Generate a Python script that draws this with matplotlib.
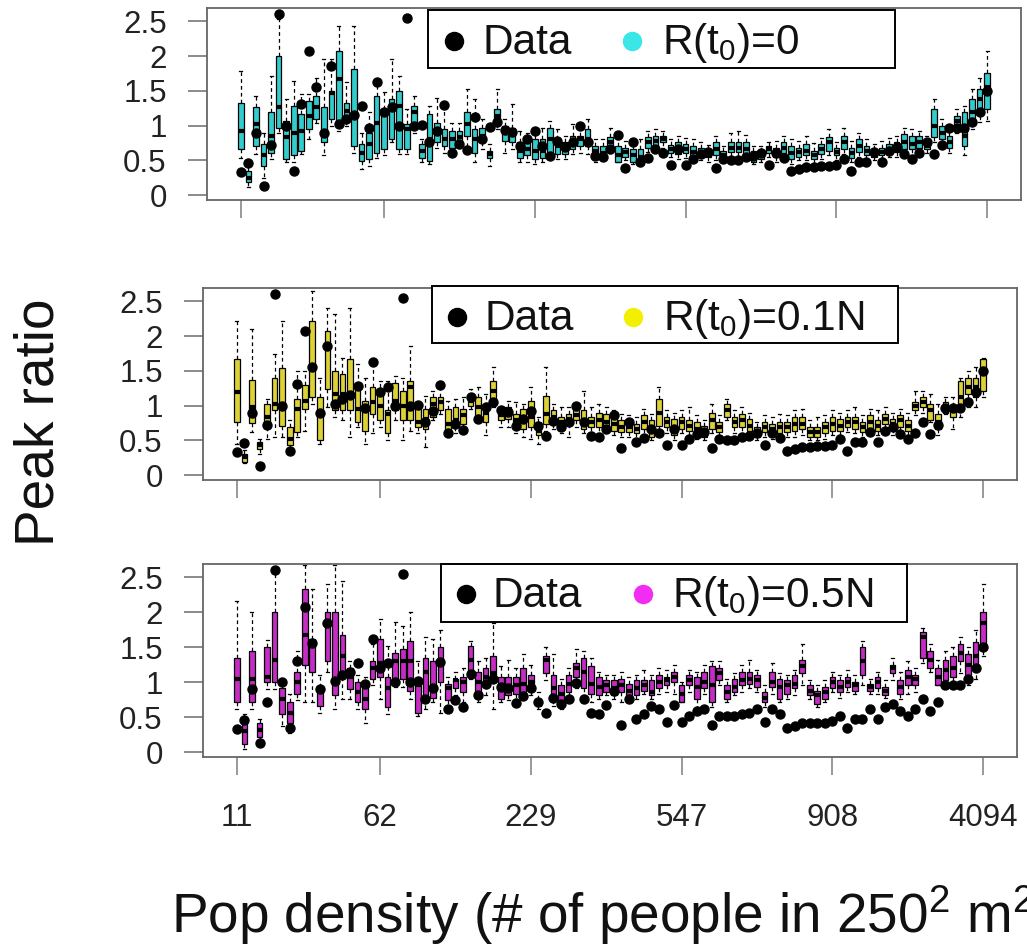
import matplotlib
matplotlib.use("Agg")
import matplotlib.pyplot as plt
from matplotlib.patches import Rectangle
from matplotlib.lines import Line2D

plt.rcParams['font.family'] = ['Liberation Sans', 'DejaVu Sans']
plt.rcParams['mathtext.fontset'] = 'custom'
plt.rcParams['mathtext.rm'] = 'Liberation Sans'
plt.rcParams['mathtext.it'] = 'Liberation Sans:italic'
plt.rcParams['mathtext.bf'] = 'Liberation Sans:bold'

# observed peak ratio per density bin (black dots, same in all panels)
data = [0.33, 0.46, 0.90, 0.13, 0.72, 2.60, 1.00, 0.35, 1.31, 2.07,
        1.56, 0.90, 1.85, 1.02, 1.10, 1.15, 1.28, 0.97, 1.62, 1.20,
        1.27, 1.00, 2.55, 1.00, 1.01, 0.76, 0.92, 1.29, 0.61, 0.74,
        0.65, 1.12, 0.81, 0.98, 1.05, 0.93, 0.91, 0.70, 0.80, 0.92,
        0.71, 0.56, 0.78, 0.69, 0.76, 0.99, 0.76, 0.56, 0.55, 0.67,
        0.87, 0.39, 0.76, 0.47, 0.54, 0.66, 0.61, 0.43, 0.67, 0.43,
        0.52, 0.59, 0.62, 0.39, 0.52, 0.51, 0.51, 0.55, 0.56, 0.61,
        0.43, 0.61, 0.54, 0.34, 0.38, 0.41, 0.41, 0.42, 0.42, 0.44,
        0.52, 0.34, 0.48, 0.48, 0.62, 0.48, 0.64, 0.69, 0.59, 0.52,
        0.61, 0.76, 0.59, 0.72, 0.96, 0.96, 0.96, 1.05, 1.20, 1.50]

tick_pos = [1, 20, 40, 60, 80, 100]
tick_lab = ['11', '62', '229', '547', '908', '4094']

# R(t0)=0
p1_lo = [0.54, 0.11, 0.59, 0.25, 0.52, 0.90, 0.47, 0.47, 0.59, 0.80,
         1.04, 0.57, 1.00, 0.92, 1.00, 0.61, 0.37, 0.42, 0.54, 0.57,
         0.76, 0.59, 0.59, 0.90, 0.47, 0.45, 0.68, 0.61, 0.61, 0.68,
         0.71, 0.47, 0.66, 0.42, 0.95, 0.61, 0.66, 0.47, 0.47, 0.45,
         0.47, 0.57, 0.52, 0.52, 0.59, 0.61, 0.59, 0.47, 0.52, 0.61,
         0.47, 0.50, 0.45, 0.42, 0.62, 0.62, 0.68, 0.55, 0.52, 0.54,
         0.50, 0.50, 0.48, 0.50, 0.48, 0.55, 0.55, 0.52, 0.45, 0.47,
         0.55, 0.48, 0.52, 0.45, 0.50, 0.50, 0.45, 0.52, 0.57, 0.50,
         0.59, 0.48, 0.55, 0.52, 0.50, 0.52, 0.55, 0.55, 0.57, 0.57,
         0.59, 0.60, 0.76, 0.76, 0.61, 0.90, 0.57, 0.95, 1.05, 1.07]
p1_q1 = [0.66, 0.19, 0.71, 0.42, 0.61, 0.97, 0.52, 0.57, 0.64, 0.95,
         1.09, 0.76, 1.09, 1.02, 1.07, 0.71, 0.49, 0.52, 0.61, 0.66,
         0.80, 0.66, 0.66, 1.00, 0.54, 0.49, 0.76, 0.71, 0.68, 0.76,
         0.85, 0.61, 0.76, 0.54, 1.02, 0.78, 0.76, 0.54, 0.57, 0.52,
         0.54, 0.61, 0.59, 0.59, 0.66, 0.71, 0.71, 0.57, 0.57, 0.68,
         0.47, 0.55, 0.47, 0.45, 0.68, 0.71, 0.76, 0.60, 0.59, 0.61,
         0.57, 0.57, 0.55, 0.57, 0.52, 0.62, 0.62, 0.57, 0.47, 0.52,
         0.60, 0.55, 0.61, 0.52, 0.55, 0.57, 0.52, 0.59, 0.64, 0.57,
         0.66, 0.54, 0.62, 0.57, 0.55, 0.57, 0.61, 0.62, 0.66, 0.66,
         0.68, 0.66, 0.83, 0.80, 0.68, 1.00, 0.71, 1.04, 1.24, 1.24]
p1_med = [0.92, 0.25, 1.02, 0.57, 0.85, 1.26, 0.83, 0.90, 0.92, 1.14,
          1.26, 0.90, 1.47, 1.67, 1.21, 1.14, 0.61, 0.73, 1.04, 1.16,
          1.28, 1.28, 0.95, 1.19, 0.64, 0.80, 0.92, 0.80, 0.80, 0.83,
          1.02, 0.80, 0.85, 0.59, 1.14, 0.90, 0.92, 0.64, 0.66, 0.64,
          0.64, 0.80, 0.71, 0.68, 0.78, 0.80, 0.80, 0.64, 0.61, 0.76,
          0.57, 0.62, 0.57, 0.55, 0.76, 0.78, 0.80, 0.66, 0.68, 0.66,
          0.62, 0.61, 0.60, 0.66, 0.57, 0.68, 0.68, 0.66, 0.54, 0.57,
          0.66, 0.62, 0.68, 0.60, 0.62, 0.64, 0.58, 0.66, 0.76, 0.62,
          0.76, 0.60, 0.70, 0.64, 0.60, 0.62, 0.66, 0.70, 0.76, 0.73,
          0.76, 0.70, 1.00, 0.90, 0.76, 1.07, 0.85, 1.19, 1.38, 1.55]
p1_q3 = [1.32, 0.35, 1.26, 0.73, 1.19, 2.00, 1.07, 1.28, 1.16, 1.36,
         1.43, 1.26, 1.50, 2.07, 1.33, 1.81, 0.73, 0.90, 1.43, 1.24,
         1.38, 1.50, 1.02, 1.28, 0.73, 1.16, 1.04, 0.95, 0.92, 0.92,
         1.19, 0.95, 0.97, 0.64, 1.24, 1.00, 0.97, 0.76, 0.76, 0.80,
         0.80, 0.97, 0.80, 0.76, 0.85, 0.85, 0.95, 0.71, 0.71, 0.83,
         0.71, 0.68, 0.66, 0.66, 0.83, 0.85, 0.85, 0.72, 0.76, 0.73,
         0.71, 0.68, 0.66, 0.76, 0.64, 0.76, 0.76, 0.76, 0.64, 0.64,
         0.70, 0.68, 0.76, 0.71, 0.68, 0.73, 0.64, 0.74, 0.83, 0.68,
         0.85, 0.68, 0.80, 0.71, 0.66, 0.68, 0.73, 0.76, 0.88, 0.85,
         0.85, 0.76, 1.24, 1.00, 0.85, 1.14, 1.19, 1.38, 1.52, 1.76]
p1_hi = [1.79, 0.42, 1.43, 0.90, 1.71, 2.53, 1.38, 1.64, 1.45, 1.45,
         1.69, 1.95, 1.95, 2.43, 1.62, 2.43, 0.90, 1.19, 1.62, 1.48,
         1.95, 1.71, 1.24, 1.43, 0.80, 1.28, 1.40, 1.24, 1.04, 1.04,
         1.52, 1.38, 1.09, 0.73, 1.52, 1.09, 1.31, 0.92, 0.90, 0.95,
         0.97, 1.07, 0.95, 0.85, 1.02, 1.00, 1.09, 0.80, 0.80, 0.97,
         0.80, 0.78, 0.75, 0.80, 0.92, 0.95, 0.92, 0.80, 0.85, 0.82,
         0.80, 0.76, 0.72, 0.85, 0.71, 0.90, 0.92, 0.87, 0.71, 0.70,
         0.76, 0.78, 0.85, 0.80, 0.78, 0.85, 0.75, 0.82, 0.95, 0.76,
         0.97, 0.78, 0.90, 0.80, 0.74, 0.78, 0.82, 0.85, 0.97, 0.95,
         0.92, 0.85, 1.38, 1.10, 0.95, 1.24, 1.28, 1.52, 1.69, 2.07]

# R(t0)=0.1N
p2_lo = [0.45, 0.17, 0.62, 0.31, 0.52, 0.55, 0.55, 0.31, 0.55, 0.64,
         1.02, 0.45, 0.98, 0.83, 0.79, 0.55, 0.69, 0.45, 0.60, 0.69,
         0.50, 0.79, 0.50, 0.64, 0.60, 0.40, 0.79, 0.88, 0.57, 0.60,
         0.64, 0.95, 0.79, 0.57, 0.98, 0.69, 0.69, 0.60, 0.55, 0.52,
         0.45, 0.64, 0.67, 0.60, 0.55, 0.69, 0.60, 0.62, 0.60, 0.60,
         0.57, 0.55, 0.55, 0.52, 0.57, 0.50, 0.62, 0.60, 0.50, 0.60,
         0.57, 0.52, 0.50, 0.60, 0.55, 0.79, 0.60, 0.60, 0.55, 0.50,
         0.55, 0.52, 0.52, 0.55, 0.55, 0.57, 0.50, 0.50, 0.52, 0.57,
         0.57, 0.62, 0.60, 0.55, 0.57, 0.57, 0.67, 0.57, 0.62, 0.55,
         0.86, 0.90, 0.76, 0.57, 0.88, 0.67, 0.83, 0.98, 0.98, 1.12]
p2_q1 = [0.76, 0.19, 0.75, 0.38, 0.69, 0.93, 0.71, 0.43, 0.62, 0.95,
         1.12, 0.50, 1.24, 0.93, 0.93, 0.93, 0.76, 0.64, 0.88, 0.79,
         0.60, 0.93, 0.79, 0.79, 0.69, 0.67, 0.83, 0.93, 0.64, 0.69,
         0.74, 1.00, 0.86, 0.76, 1.07, 0.79, 0.81, 0.69, 0.67, 0.69,
         0.57, 0.74, 0.74, 0.69, 0.74, 0.79, 0.67, 0.69, 0.69, 0.69,
         0.64, 0.62, 0.62, 0.60, 0.67, 0.55, 0.71, 0.69, 0.57, 0.67,
         0.64, 0.60, 0.55, 0.67, 0.62, 0.83, 0.69, 0.69, 0.64, 0.55,
         0.62, 0.60, 0.60, 0.62, 0.64, 0.67, 0.55, 0.55, 0.60, 0.64,
         0.64, 0.69, 0.67, 0.62, 0.67, 0.64, 0.74, 0.67, 0.69, 0.64,
         0.93, 0.98, 0.79, 0.67, 0.90, 0.83, 0.98, 1.17, 1.12, 1.21]
p2_med = [1.19, 0.26, 0.98, 0.43, 0.83, 1.02, 1.02, 0.52, 0.95, 1.07,
          1.55, 0.88, 1.83, 1.17, 1.17, 1.12, 0.95, 0.93, 1.05, 1.00,
          0.88, 1.07, 1.00, 1.26, 0.76, 0.81, 1.02, 1.05, 0.74, 0.79,
          0.86, 1.07, 0.98, 0.90, 1.21, 0.86, 0.88, 0.79, 0.76, 0.83,
          0.64, 0.88, 0.83, 0.76, 0.81, 0.86, 0.79, 0.76, 0.79, 0.76,
          0.74, 0.69, 0.69, 0.67, 0.76, 0.67, 0.90, 0.76, 0.67, 0.76,
          0.71, 0.67, 0.62, 0.79, 0.69, 0.93, 0.76, 0.79, 0.71, 0.62,
          0.69, 0.67, 0.69, 0.69, 0.74, 0.74, 0.62, 0.62, 0.69, 0.74,
          0.71, 0.76, 0.76, 0.69, 0.76, 0.71, 0.81, 0.74, 0.79, 0.71,
          1.00, 1.05, 0.93, 0.76, 0.98, 0.93, 1.12, 1.26, 1.26, 1.52]
p2_q3 = [1.67, 0.31, 1.37, 0.48, 1.02, 1.40, 1.54, 0.69, 1.10, 1.29,
         2.22, 1.12, 2.07, 1.50, 1.45, 1.67, 1.29, 1.07, 1.26, 1.17,
         0.93, 1.33, 1.21, 1.36, 0.95, 0.95, 1.12, 1.12, 0.95, 0.98,
         0.95, 1.12, 1.12, 1.00, 1.36, 0.90, 0.98, 0.88, 0.95, 1.07,
         0.76, 1.14, 0.93, 0.83, 0.88, 0.93, 0.93, 0.83, 0.90, 0.88,
         0.83, 0.79, 0.76, 0.74, 0.86, 0.79, 1.10, 0.83, 0.81, 0.83,
         0.79, 0.76, 0.71, 0.90, 0.76, 1.02, 0.83, 0.88, 0.81, 0.69,
         0.76, 0.74, 0.76, 0.76, 0.83, 0.83, 0.69, 0.69, 0.76, 0.83,
         0.81, 0.83, 0.83, 0.76, 0.86, 0.79, 0.88, 0.81, 0.86, 0.79,
         1.05, 1.12, 1.02, 0.88, 1.05, 1.00, 1.36, 1.40, 1.40, 1.67]
p2_hi = [2.21, 0.36, 2.10, 0.52, 1.10, 1.74, 2.21, 0.79, 1.50, 1.50,
         2.64, 1.40, 2.40, 2.31, 1.69, 2.40, 1.60, 1.40, 1.60, 1.36,
         1.36, 1.43, 1.40, 1.86, 1.02, 1.14, 1.21, 1.36, 1.07, 1.10,
         1.12, 1.24, 1.26, 1.17, 1.55, 0.98, 1.07, 1.05, 1.02, 1.26,
         0.83, 1.55, 1.02, 0.98, 0.98, 1.02, 1.21, 0.98, 1.02, 0.98,
         0.93, 0.88, 0.86, 0.83, 0.95, 0.88, 1.26, 0.93, 0.90, 0.93,
         0.98, 0.86, 0.79, 1.02, 0.86, 1.10, 0.93, 0.98, 0.90, 0.76,
         0.86, 0.83, 0.88, 0.86, 0.93, 0.95, 0.79, 0.83, 0.86, 0.93,
         0.90, 0.93, 0.98, 0.86, 0.95, 0.93, 0.98, 0.90, 0.95, 0.90,
         1.21, 1.21, 1.17, 1.02, 1.12, 1.12, 1.40, 1.50, 1.55, 1.69]

# R(t0)=0.5N
p3_lo = [0.61, 0.05, 0.61, 0.12, 0.90, 0.90, 0.37, 0.27, 0.74, 0.71,
         0.71, 0.56, 1.15, 0.61, 0.76, 0.76, 0.61, 0.42, 0.96, 0.76,
         0.54, 0.93, 0.93, 0.76, 0.51, 0.61, 0.71, 0.56, 0.59, 0.81,
         0.71, 1.05, 0.71, 0.81, 0.61, 0.71, 0.74, 0.76, 0.76, 0.81,
         0.61, 1.03, 0.66, 0.61, 0.76, 0.91, 0.81, 0.71, 0.76, 0.81,
         0.76, 0.71, 0.76, 0.76, 0.83, 0.76, 0.83, 0.86, 0.83, 0.71,
         0.86, 0.64, 0.83, 0.64, 0.96, 0.71, 0.81, 0.86, 0.91, 0.86,
         0.64, 0.83, 0.71, 0.76, 0.81, 0.96, 0.76, 0.64, 0.71, 0.86,
         0.78, 0.86, 0.83, 0.96, 0.83, 0.83, 0.78, 1.03, 0.76, 0.83,
         0.86, 1.27, 1.15, 0.96, 0.91, 0.96, 1.13, 0.96, 1.05, 1.37]
p3_q1 = [0.71, 0.12, 0.71, 0.22, 1.00, 1.00, 0.54, 0.42, 0.83, 1.25,
         1.15, 0.66, 1.30, 0.81, 1.08, 0.90, 0.71, 0.61, 1.05, 1.08,
         0.64, 1.00, 1.05, 0.88, 0.56, 0.78, 0.78, 1.00, 0.74, 0.91,
         0.86, 1.15, 0.78, 0.96, 1.05, 0.76, 0.81, 0.83, 0.86, 0.88,
         0.66, 1.13, 0.74, 0.71, 0.86, 1.08, 0.91, 0.83, 0.81, 0.86,
         0.81, 0.86, 0.81, 0.81, 0.88, 0.81, 0.91, 0.96, 1.00, 0.71,
         0.96, 0.76, 0.91, 0.71, 1.03, 0.76, 0.86, 0.96, 0.98, 0.93,
         0.71, 0.93, 0.76, 0.83, 0.91, 1.13, 0.81, 0.69, 0.76, 0.91,
         0.86, 0.93, 0.88, 1.10, 0.88, 0.91, 0.81, 1.13, 0.83, 0.96,
         0.96, 1.35, 1.20, 0.96, 1.03, 1.08, 1.30, 1.10, 1.20, 1.54]
p3_med = [1.05, 0.30, 1.05, 0.32, 1.08, 1.32, 0.76, 0.56, 1.00, 1.67,
          1.52, 0.88, 1.81, 1.00, 1.37, 1.08, 0.86, 0.76, 1.20, 1.27,
          0.91, 1.30, 1.30, 1.30, 0.96, 1.15, 0.93, 1.32, 0.91, 1.03,
          1.00, 1.32, 1.00, 1.08, 1.13, 0.93, 0.93, 0.96, 0.98, 1.00,
          0.71, 1.32, 0.91, 0.83, 0.98, 1.20, 1.15, 0.98, 0.93, 0.96,
          0.91, 0.96, 0.88, 0.91, 0.96, 0.86, 1.00, 1.03, 1.08, 0.83,
          1.03, 0.93, 1.00, 0.96, 1.13, 0.86, 0.93, 1.03, 1.05, 1.03,
          0.78, 1.00, 0.93, 0.96, 0.98, 1.23, 0.88, 0.81, 0.86, 1.00,
          0.93, 1.00, 0.96, 1.30, 0.93, 1.00, 0.88, 1.20, 0.93, 1.08,
          1.05, 1.64, 1.32, 1.08, 1.18, 1.20, 1.42, 1.25, 1.37, 1.84]
p3_q3 = [1.35, 0.49, 1.45, 0.42, 1.50, 2.01, 0.91, 0.71, 1.15, 2.33,
         1.62, 0.93, 2.01, 2.01, 1.67, 1.20, 1.00, 0.96, 1.30, 1.62,
         1.08, 1.42, 1.47, 1.59, 1.03, 1.35, 1.30, 1.50, 0.98, 1.05,
         1.08, 1.52, 1.15, 1.20, 1.37, 1.08, 1.08, 1.08, 1.20, 1.10,
         0.76, 1.37, 1.10, 0.96, 1.10, 1.27, 1.35, 1.23, 1.08, 1.03,
         1.03, 1.05, 0.98, 1.03, 1.03, 1.03, 1.10, 1.08, 1.15, 0.96,
         1.10, 1.08, 1.15, 1.23, 1.20, 0.96, 1.05, 1.15, 1.15, 1.10,
         0.86, 1.15, 1.05, 1.03, 1.10, 1.32, 0.96, 0.88, 0.93, 1.08,
         1.03, 1.08, 1.00, 1.50, 0.98, 1.08, 0.93, 1.25, 1.03, 1.18,
         1.10, 1.72, 1.45, 1.20, 1.32, 1.37, 1.54, 1.40, 1.57, 2.01]
p3_hi = [2.16, 0.55, 2.01, 0.47, 1.60, 2.57, 1.00, 0.83, 1.45, 2.67,
         2.33, 1.10, 2.40, 2.67, 2.45, 1.30, 1.10, 1.08, 1.54, 1.91,
         1.52, 1.86, 1.81, 2.01, 1.30, 1.64, 1.62, 1.74, 1.08, 1.15,
         1.20, 1.59, 1.30, 1.35, 1.84, 1.23, 1.32, 1.20, 1.40, 1.25,
         0.86, 1.50, 1.40, 1.05, 1.20, 1.47, 1.45, 1.35, 1.15, 1.10,
         1.10, 1.15, 1.08, 1.10, 1.18, 1.10, 1.20, 1.18, 1.25, 1.00,
         1.18, 1.15, 1.25, 1.30, 1.30, 1.05, 1.13, 1.25, 1.32, 1.18,
         0.96, 1.27, 1.13, 1.10, 1.18, 1.54, 1.03, 0.96, 1.03, 1.15,
         1.10, 1.18, 1.10, 1.59, 1.05, 1.15, 1.03, 1.35, 1.15, 1.30,
         1.20, 1.78, 1.54, 1.32, 1.45, 1.50, 1.64, 1.50, 1.74, 2.40]

W, H = 1027, 949
fig = plt.figure(figsize=(W / 100, H / 100), dpi=100)


def fx(x):
    return x / W


def fy(y):
    return 1 - y / H


panels = [
    dict(frame=(207, 8, 1021, 200), stats=(p1_lo, p1_q1, p1_med, p1_q3, p1_hi),
         fill='#33cccc', dot='#3ae6e6', label=r'R(t$_0$)=0',
         leg=(428, 10, 895, 68), d1=454, t1=482, d2=632, t2=662, ly=41, base=54),
    dict(frame=(203, 288, 1017, 480), stats=(p2_lo, p2_q1, p2_med, p2_q3, p2_hi),
         fill='#dcd235', dot='#f2f000', label=r'R(t$_0$)=0.1N',
         leg=(432, 286, 898, 343), d1=457, t1=484, d2=633, t2=663, ly=317, base=330),
    dict(frame=(203, 564, 1017, 757), stats=(p3_lo, p3_q1, p3_med, p3_q3, p3_hi),
         fill='#c42cc4', dot='#f22cf2', label=r'R(t$_0$)=0.5N',
         leg=(441, 564, 907, 622), d1=466, t1=493, d2=643, t2=672, ly=594, base=607),
]

positions = list(range(1, len(data) + 1))

for k, p in enumerate(panels):
    x0, y0, x1, y1 = p['frame']
    ax = fig.add_axes([fx(x0), fy(y1), (x1 - x0) / W, (y1 - y0) / H])
    lo, q1, med, q3, hi = p['stats']
    stats = [dict(whislo=lo[i], q1=q1[i], med=med[i], q3=q3[i], whishi=hi[i])
             for i in range(len(med))]
    ax.bxp(stats, positions=positions, widths=0.75, patch_artist=True,
           showfliers=False, capwidths=0.4,
           boxprops=dict(facecolor=p['fill'], edgecolor='black', linewidth=0.9),
           medianprops=dict(color='black', linewidth=3, solid_capstyle='butt'),
           whiskerprops=dict(color='black', linewidth=0.9, linestyle=(0, (3, 2.5))),
           capprops=dict(color='black', linewidth=0.9))
    ax.plot(positions, data, 'o', color='black', markersize=6.5, zorder=4)

    ax.set_xlim(-3.5, 104.5)
    ax.set_ylim(-0.07, 2.69)
    ax.set_yticks([0, 0.5, 1, 1.5, 2, 2.5])
    ax.set_yticklabels(['0', '0.5', '1', '1.5', '2', '2.5'])
    ax.set_xticks(tick_pos)
    if k == 2:
        ax.set_xticklabels(tick_lab)
    else:
        ax.set_xticklabels([])
    ax.tick_params(axis='y', length=14, width=1.2, color='#777777', pad=15,
                   labelsize=22.5, labelcolor='#222222')
    ax.tick_params(axis='x', length=13, width=1.2, color='#888888', pad=20,
                   labelsize=22.5, labelcolor='#222222')
    for s in ax.spines.values():
        s.set_color('#666666')
        s.set_linewidth(1.3)

    # legend drawn like R's horizontal legend box
    lx0, ly0, lx1, ly1 = p['leg']
    fig.add_artist(Rectangle((fx(lx0), fy(ly1)), (lx1 - lx0) / W, (ly1 - ly0) / H,
                             transform=fig.transFigure, facecolor='white',
                             edgecolor='black', linewidth=1.4, zorder=5))
    fig.add_artist(Line2D([fx(p['d1'])], [fy(p['ly'])], marker='o', markersize=13,
                          color='black', linestyle='none',
                          transform=fig.transFigure, zorder=6))
    fig.add_artist(Line2D([fx(p['d2'])], [fy(p['ly'])], marker='o', markersize=13,
                          color=p['dot'], linestyle='none',
                          transform=fig.transFigure, zorder=6))
    fig.text(fx(p['t1']), fy(p['base']), 'Data', fontsize=30.5, ha='left',
             va='baseline', color='#111111', zorder=6)
    fig.text(fx(p['t2']), fy(p['base']), p['label'], fontsize=30.5, ha='left',
             va='baseline', color='#111111', zorder=6)

fig.text(fx(612), fy(933), r'Pop density (# of people in 250$^2$ m$^2$)',
         fontsize=39.5, ha='center', va='baseline', color='#111111')
fig.text(fx(40), fy(422), 'Peak ratio', fontsize=39.5, rotation=90,
         ha='center', va='center', color='#111111')

fig.savefig('out.png', dpi=100)
